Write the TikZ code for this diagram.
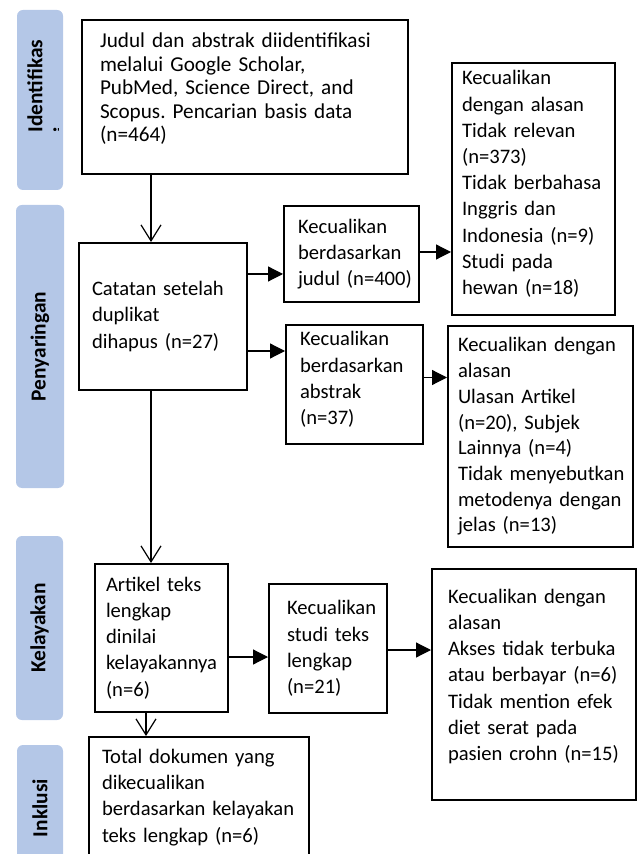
\documentclass[tikz,border=0pt]{standalone}
\usepackage{fontspec}
\setmainfont{Carlito}
\usetikzlibrary{arrows.meta,calc}
\definecolor{sidefill}{HTML}{B4C7E7}
\frenchspacing

\begin{document}
\begin{tikzpicture}[x=0.5pt, y=-0.5pt,
      box/.style={
        draw, 
        line width=1pt,
        inner xsep=0pt, inner ysep=0pt,
        align=left,
        font=\fontsize{10.3}{13.1}\selectfont
      },
      pad/.style={execute at begin node={\leftskip=#1}},
      lift/.style={execute at end node={\endgraf\kern#1}},
      side/.style={
        fill=sidefill, 
        rounded corners=3pt, 
        rotate=90, inner sep=0pt,
        font=\fontsize{10.7}{13}\selectfont\bfseries
      },
      tri/.style={-{Triangle[length=7.5pt,width=7.5pt]}, line width=0.6pt},
      vee/.style={-{Straight Barb[length=8pt,width=10pt]}, line width=0.6pt}
    ]
    \useasboundingbox (0,0) rectangle (638,854);
    \node[side, minimum width=90pt, minimum height=23pt] (s1) at (40,100) {};
    \begin{scope}
      \clip (17,10) rectangle (58,190);
      \node[side, fill=none, align=left, anchor=north west] (s1txt) at (27,133) {Identifikas\\i};
    \end{scope}
    \node[side, minimum width=141.5pt, minimum height=24pt] (s2) at (40,346.5) {Penyaringan};
    \node[side, minimum width=92pt, minimum height=23.5pt] (s3) at (39.5,628) {Kelayakan};
    \node[side, minimum width=63pt, minimum height=23pt] (s4) at (40,808) {Inklusi};

    \node[box, text width=163pt, minimum height=77pt, pad=9pt, lift=8pt, font=\fontsize{10.6}{11.75}\selectfont] (ident) at (245,97) {Judul dan abstrak diidentifikasi\\melalui Google Scholar,\\PubMed, Science Direct, and\\Scopus. Pencarian basis data\\(n=464)};
    \node[box, text width=84pt, minimum height=73.5pt, pad=6.5pt] (catatan) at (163,316.5) {Catatan setelah\\duplikat\\dihapus (n=27)};
    \node[box, text width=67.5pt, minimum height=48pt, pad=7pt] (judul) at (351.5,254) {Kecualikan\\berdasarkan\\judul (n=400)};
    \node[box, text width=68.5pt, minimum height=59.5pt, pad=7pt, lift=5pt] (abstrak) at (354.5,384.5) {Kecualikan\\berdasarkan\\abstrak\\(n=37)};
    \node[box, text width=81.5pt, minimum height=126pt, pad=5pt, lift=5pt] (alasan1) at (533.5,189) {Kecualikan\\dengan alasan\\Tidak relevan\\(n=373)\\Tidak berbahasa\\Inggris dan\\Indonesia (n=9)\\Studi pada\\hewan (n=18)};
    \node[box, text width=92.5pt, minimum height=110.5pt, pad=5pt, font=\fontsize{10.3}{12.85}\selectfont] (alasan2) at (540.5,436.5) {Kecualikan dengan\\alasan\\Ulasan Artikel\\(n=20), Subjek\\Lainnya (n=4)\\Tidak menyebutkan\\metodenya dengan\\jelas (n=13)};
    \node[box, text width=66.5pt, minimum height=74pt, pad=5.5pt] (artikel) at (161.5,638) {Artikel teks\\lengkap\\dinilai\\kelayakannya\\(n=6)};
    \node[box, text width=59pt, minimum height=64.5pt, pad=9pt] (studi) at (328,648.5) {Kecualikan\\studi teks\\lengkap\\(n=21)};
    \node[box, text width=102pt, minimum height=115.5pt, pad=8pt, lift=8pt] (alasan3) at (534,684.5) {Kecualikan dengan\\alasan\\Akses tidak terbuka\\atau berbayar (n=6)\\Tidak mention efek\\diet serat pada\\pasien crohn (n=15)};
    \node[box, text width=110pt, minimum height=60.5pt, pad=6.5pt] (total) at (199,797.5) {Total dokumen yang\\dikecualikan\\berdasarkan kelayakan\\teks lengkap (n=6)};

    \draw[vee] ([xshift=-47pt]ident.south) -- ([xshift=-6pt]catatan.north);
    \draw[tri] ([yshift=21.25pt]catatan.east) -- ([yshift=21.25pt]catatan.east -| judul.west);
    \draw[tri] ([yshift=-17.25pt]catatan.east) -- ([yshift=-17.25pt]catatan.east -| abstrak.west);
    \draw[tri] ([yshift=1pt]judul.east) -- ([yshift=1pt]judul.east -| alasan1.west);
    \draw[tri] ([yshift=3.5pt]abstrak.east) -- ([yshift=3.5pt]abstrak.east -| alasan2.west);
    \draw[vee] ([xshift=-6pt]catatan.south) -- ([xshift=-5.25pt]artikel.north);
    \draw[tri] ([yshift=-9.5pt]artikel.east) -- ([yshift=-9.5pt]artikel.east -| studi.west);
    \draw[tri] ([yshift=-0.75pt]studi.east) -- ([yshift=-0.75pt]studi.east -| alasan3.west);
    \draw[vee] ([xshift=-7.75pt]artikel.south) -- ([xshift=-26.5pt]total.north);
  \end{tikzpicture}
\end{document}
